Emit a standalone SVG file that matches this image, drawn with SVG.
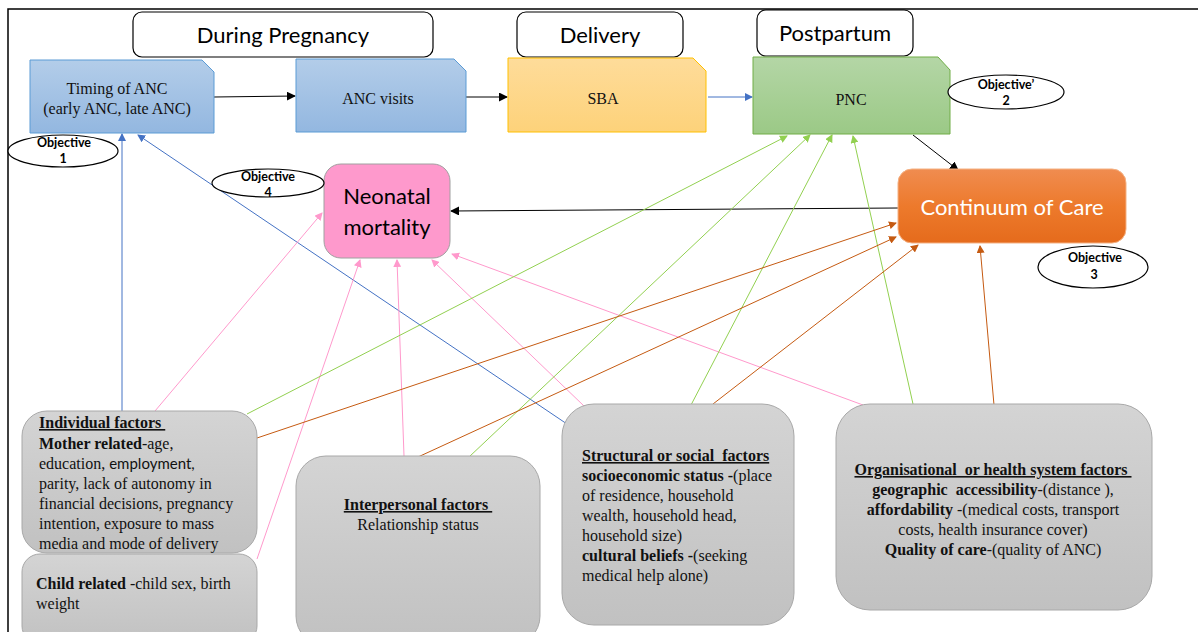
<svg xmlns="http://www.w3.org/2000/svg" width="1199" height="632" viewBox="0 0 1199 632">
  <style>
    .hdr { fill: #ffffff; stroke: #000000; stroke-width: 1.2; }
    .hdrt { font-family: Lato, "Open Sans", sans-serif; font-size: 22px; fill: #000; text-anchor: middle; }
    .proc { font-family: "Liberation Serif", serif; font-size: 16px; fill: #111; text-anchor: middle; }
    .obj { fill: #fff; stroke: #000; stroke-width: 1.2; }
    .objt { font-family: Lato, "Open Sans", sans-serif; font-size: 12.5px; font-weight: bold; fill: #000; text-anchor: middle; }
    .fac { fill: url(#gGray); stroke: #a8a8a8; stroke-width: 1; }
    .ft { font-family: "Liberation Serif", serif; font-size: 16px; fill: #111; white-space: pre; }
    .b { font-weight: bold; }
    .u { text-decoration: underline; font-weight: bold; }
    .cal { font-family: Lato, "Open Sans", sans-serif; font-size: 15px; }
    .c-blue { stroke: #4472c4; stroke-width: 1; fill: none; marker-end: url(#aBlue); }
    .c-pink { stroke: #ff99cc; stroke-width: 1; fill: none; marker-end: url(#aPink); }
    .c-green { stroke: #92d050; stroke-width: 1; fill: none; marker-end: url(#aGreen); }
    .c-orange { stroke: #c55a11; stroke-width: 1; fill: none; marker-end: url(#aOrange); }
    .c-black { stroke: #000; stroke-width: 1; fill: none; marker-end: url(#aBlack); }
  </style>
  <defs>
    <linearGradient id="gBlue" x1="0" y1="0" x2="0" y2="1">
      <stop offset="0" stop-color="#b3cde9"/>
      <stop offset="1" stop-color="#93b7e0"/>
    </linearGradient>
    <linearGradient id="gYellow" x1="0" y1="0" x2="0" y2="1">
      <stop offset="0" stop-color="#fedc9a"/>
      <stop offset="1" stop-color="#fdd27a"/>
    </linearGradient>
    <linearGradient id="gGreen" x1="0" y1="0" x2="0" y2="1">
      <stop offset="0" stop-color="#b4d6a6"/>
      <stop offset="1" stop-color="#9bc986"/>
    </linearGradient>
    <linearGradient id="gOrange" x1="0" y1="0" x2="0" y2="1">
      <stop offset="0" stop-color="#f08c50"/>
      <stop offset="0.5" stop-color="#ed7a2c"/>
      <stop offset="1" stop-color="#e56b1c"/>
    </linearGradient>
    <linearGradient id="gGray" x1="0" y1="0" x2="0" y2="1">
      <stop offset="0" stop-color="#d4d4d4"/>
      <stop offset="1" stop-color="#c1c1c1"/>
    </linearGradient>
    <marker id="aBlue" markerWidth="8" markerHeight="8" refX="7" refY="4" orient="auto" markerUnits="userSpaceOnUse">
      <path d="M0,0 L8,4 L0,8 z" fill="#4472c4"/>
    </marker>
    <marker id="aPink" markerWidth="8" markerHeight="8" refX="7" refY="4" orient="auto" markerUnits="userSpaceOnUse">
      <path d="M0,0 L8,4 L0,8 z" fill="#ff99cc"/>
    </marker>
    <marker id="aGreen" markerWidth="8" markerHeight="8" refX="7" refY="4" orient="auto" markerUnits="userSpaceOnUse">
      <path d="M0,0 L8,4 L0,8 z" fill="#92d050"/>
    </marker>
    <marker id="aOrange" markerWidth="8" markerHeight="8" refX="7" refY="4" orient="auto" markerUnits="userSpaceOnUse">
      <path d="M0,0 L8,4 L0,8 z" fill="#c55a11"/>
    </marker>
    <marker id="aBlack" markerWidth="9" markerHeight="9" refX="8" refY="4.5" orient="auto" markerUnits="userSpaceOnUse">
      <path d="M0,0 L9,4.5 L0,9 z" fill="#000"/>
    </marker>
  </defs>

  <rect width="1199" height="632" fill="#ffffff"/>

  <!-- outer frame -->
  <path d="M8,632 L8,9 L1198,9" fill="none" stroke="#000" stroke-width="1.5"/>

  <!-- stage headers -->
  <g id="hdr-pregnancy">
    <rect class="hdr" x="133" y="12" width="300" height="45" rx="9"/>
    <text class="hdrt" x="283" y="43">During Pregnancy</text>
  </g>
  <g id="hdr-delivery">
    <rect class="hdr" x="517" y="12" width="166" height="45" rx="9"/>
    <text class="hdrt" x="600" y="43">Delivery</text>
  </g>
  <g id="hdr-postpartum">
    <rect class="hdr" x="757" y="10" width="156" height="46" rx="9"/>
    <text class="hdrt" x="835" y="41">Postpartum</text>
  </g>

  <!-- connectors -->
  <g id="connectors">
    <!-- care pathway -->
    <line class="c-black" x1="214" y1="97" x2="295" y2="96"/>
    <line class="c-black" x1="466" y1="97" x2="507" y2="97" stroke="#555"/>
    <line class="c-blue" x1="708" y1="97" x2="752" y2="97"/>
    <line class="c-black" x1="913" y1="135" x2="958" y2="170"/>
    <line class="c-black" x1="898" y1="208" x2="451" y2="211"/>
    <!-- to timing of ANC -->
    <line class="c-blue" x1="122" y1="411" x2="122" y2="134"/>
    <line class="c-blue" x1="567" y1="424" x2="138" y2="135"/>
    <!-- to neonatal mortality -->
    <line class="c-pink" x1="155" y1="411" x2="322" y2="213"/>
    <line class="c-pink" x1="257" y1="559" x2="360" y2="260"/>
    <line class="c-pink" x1="404" y1="456" x2="397" y2="260"/>
    <line class="c-pink" x1="584" y1="406" x2="432" y2="260"/>
    <line class="c-pink" x1="863" y1="405" x2="452" y2="254"/>
    <!-- to PNC -->
    <line class="c-green" x1="247" y1="414" x2="787" y2="136"/>
    <line class="c-green" x1="469" y1="457" x2="810" y2="135"/>
    <line class="c-green" x1="691" y1="405" x2="832" y2="135"/>
    <line class="c-green" x1="913" y1="404" x2="853" y2="136"/>
    <!-- to continuum of care -->
    <line class="c-orange" x1="257" y1="438" x2="896" y2="223"/>
    <line class="c-orange" x1="418" y1="457" x2="896" y2="237"/>
    <line class="c-orange" x1="713" y1="404" x2="918" y2="245"/>
    <line class="c-orange" x1="994" y1="405" x2="980" y2="246"/>
  </g>

  <!-- care pathway nodes -->
  <g id="timing-anc">
    <path d="M30,60 H202 L214,72 V133 H30 Z" fill="url(#gBlue)" stroke="#5b9bd5" stroke-width="1"/>
    <text class="proc" x="117" y="94">Timing of ANC</text>
    <text class="proc" x="117" y="114">(early ANC, late ANC)</text>
  </g>
  <g id="anc-visits">
    <path d="M296,59 H454 L466,71 V132 H296 Z" fill="url(#gBlue)" stroke="#5b9bd5" stroke-width="1"/>
    <text class="proc" x="378" y="104">ANC visits</text>
  </g>
  <g id="sba">
    <path d="M508,58 H693 L706,71 V132 H508 Z" fill="url(#gYellow)" stroke="#ffc000" stroke-width="1"/>
    <text class="proc" x="603" y="104">SBA</text>
  </g>
  <g id="pnc">
    <path d="M753,57 H938 L950,70 V134 H753 Z" fill="url(#gGreen)" stroke="#70ad47" stroke-width="1"/>
    <text class="proc" x="851" y="105">PNC</text>
  </g>

  <!-- outcomes -->
  <g id="neonatal-mortality">
    <rect x="324" y="164" width="126" height="94" rx="17" fill="#fe99cc" stroke="#a0a0a0" stroke-width="1"/>
    <text class="hdrt" x="387" y="204">Neonatal</text>
    <text class="hdrt" x="387" y="235">mortality</text>
  </g>
  <g id="continuum-of-care">
    <rect x="898" y="169" width="228" height="74" rx="14" fill="url(#gOrange)" stroke="#f4b183" stroke-width="1"/>
    <text class="hdrt" x="1012" y="215" style="fill:#ffffff">Continuum of Care</text>
  </g>

  <!-- objectives -->
  <g id="objective-1">
    <ellipse class="obj" cx="63" cy="151" rx="55" ry="16"/>
    <text class="objt" x="64" y="147">Objective</text>
    <text class="objt" x="63" y="163">1</text>
  </g>
  <g id="objective-2">
    <ellipse class="obj" cx="1006" cy="92" rx="58" ry="17"/>
    <text class="objt" x="1006" y="89">Objective’</text>
    <text class="objt" x="1006" y="105">2</text>
  </g>
  <g id="objective-3">
    <ellipse class="obj" cx="1093" cy="267" rx="55" ry="21"/>
    <text class="objt" x="1095" y="262">Objective</text>
    <text class="objt" x="1094" y="279">3</text>
  </g>
  <g id="objective-4">
    <ellipse class="obj" cx="268" cy="183" rx="56" ry="14"/>
    <text class="objt" x="268" y="181">Objective</text>
    <text class="objt" x="268" y="197">4</text>
  </g>

  <!-- factor boxes -->
  <g id="individual-factors">
    <rect class="fac" x="22" y="411" width="235" height="142" rx="25"/>
    <text class="ft" x="39" y="428"><tspan class="u">Individual factors </tspan></text>
    <text class="ft" x="39" y="449"><tspan class="b">Mother related</tspan>-age,</text>
    <text class="ft" x="39" y="469">education, <tspan class="cal">employment,</tspan></text>
    <text class="ft" x="39" y="489">parity, lack of autonomy in</text>
    <text class="ft" x="39" y="509">financial decisions, pregnancy</text>
    <text class="ft" x="39" y="529">intention, exposure to mass</text>
    <text class="ft" x="39" y="549">media and mode of delivery</text>
  </g>
  <g id="child-related">
    <rect class="fac" x="22" y="554" width="235" height="90" rx="18"/>
    <text class="ft" x="36" y="589"><tspan class="b">Child related </tspan>-child sex, birth</text>
    <text class="ft" x="36" y="609">weight</text>
  </g>
  <g id="interpersonal-factors">
    <rect class="fac" x="296" y="456" width="244" height="190" rx="30"/>
    <text class="ft" x="418" y="510" text-anchor="middle"><tspan class="u">Interpersonal factors </tspan></text>
    <text class="ft" x="418" y="530" text-anchor="middle">Relationship status</text>
  </g>
  <g id="structural-factors">
    <rect class="fac" x="562" y="404" width="232" height="221" rx="32"/>
    <text class="ft" x="582" y="461"><tspan class="u">Structural or social  factors</tspan></text>
    <text class="ft" x="582" y="481"><tspan class="b">socioeconomic status -</tspan>(place</text>
    <text class="ft" x="582" y="501">of residence, household</text>
    <text class="ft" x="582" y="521">wealth, household head,</text>
    <text class="ft" x="582" y="541">household size)</text>
    <text class="ft" x="582" y="561"><tspan class="b">cultural beliefs -</tspan>(seeking</text>
    <text class="ft" x="582" y="581">medical help alone)</text>
  </g>
  <g id="organisational-factors">
    <rect class="fac" x="836" y="404" width="316" height="206" rx="34"/>
    <g text-anchor="middle">
      <text class="ft" x="993" y="475"><tspan class="u">Organisational  or health system factors </tspan></text>
      <text class="ft" x="993" y="495"><tspan class="b">geographic  accessibility</tspan>-(distance ),</text>
      <text class="ft" x="993" y="515"><tspan class="b">affordability </tspan>-(medical costs, transport</text>
      <text class="ft" x="993" y="535">costs, health insurance cover)</text>
      <text class="ft" x="993" y="555"><tspan class="b">Quality of care</tspan>-(quality of ANC)</text>
    </g>
  </g>
</svg>
